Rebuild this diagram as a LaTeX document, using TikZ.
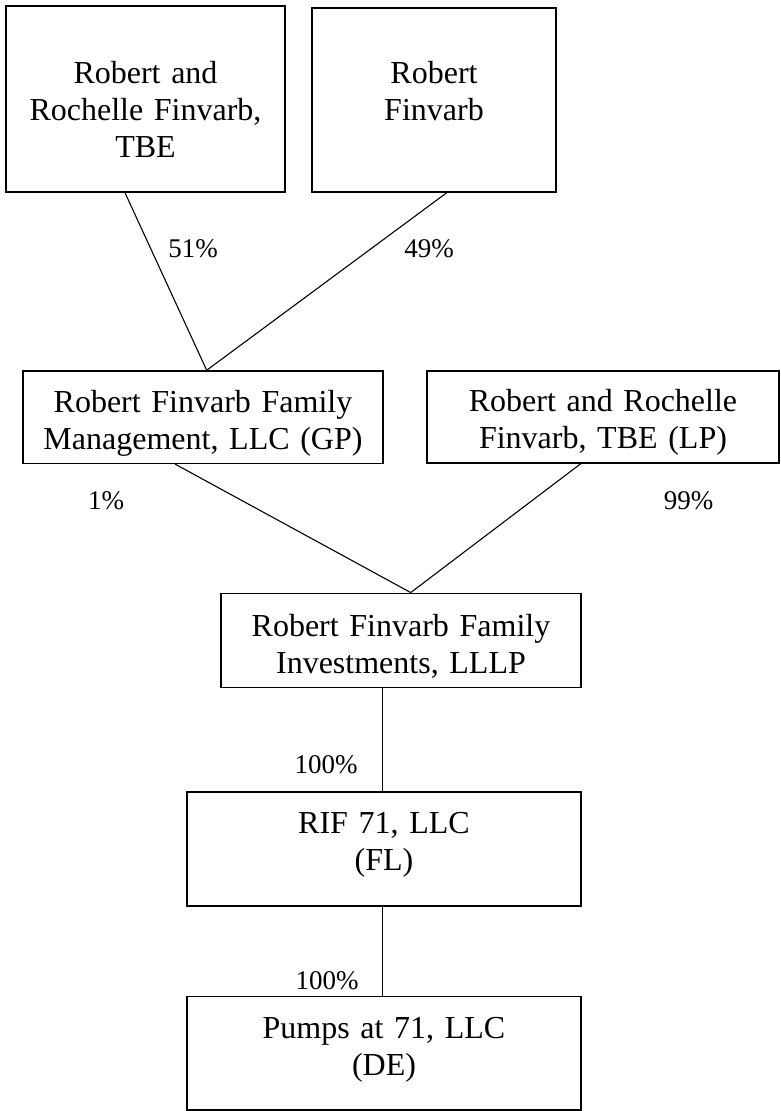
\documentclass[tikz,border=0pt]{standalone}
\usepackage{fontspec}
\setmainfont{Liberation Serif}
\begin{document}
\begin{tikzpicture}[x=1pt, y=-1pt,
  ent/.style={draw, line width=1.5pt, inner sep=0pt, align=center, anchor=base,
    font=\fontsize{32}{37}\selectfont},
  pct/.style={inner sep=0pt, anchor=base, font=\fontsize{27}{30}\selectfont},
  link/.style={line width=1.1pt}]
\useasboundingbox (0,0) rectangle (781,1111);
% owners
\node[ent, text width=279pt, text height=77pt, text depth=109pt] (owA) at (145.5,83) {Robert and\\Rochelle Finvarb,\\TBE};
\node[ent, text width=244pt, text height=75pt, text depth=109pt] (owB) at (434,83) {Robert\\Finvarb};
% partners
\node[ent, text width=360pt, text height=41.5pt, text depth=50.8pt] (gp) at (203,412.5) {Robert Finvarb Family\\Management, LLC (GP)};
\node[ent, text width=352pt, text height=40.7pt, text depth=51.3pt] (lp) at (603,411.7) {Robert and Rochelle\\Finvarb, TBE (LP)};
% partnership and below
\node[ent, text width=360pt, text height=43.2pt, text depth=50.8pt] (lllp) at (401,636.5) {Robert Finvarb Family\\Investments, LLLP};
\node[ent, text width=394pt, text height=41pt, text depth=73pt] (rif) at (384,833) {RIF 71, LLC\\(FL)};
\node[ent, text width=394pt, text height=41.5pt, text depth=72pt] (pumps) at (384,1038) {Pumps at 71, LLC\\(DE)};
% ownership lines
\draw[link]([xshift=-20.5pt]owA.south) -- ([xshift=3.7pt]gp.north);
\draw[link]([xshift=12.7pt]owB.south) -- ([xshift=3.7pt]gp.north);
\draw[link]([xshift=-28pt]gp.south) -- ([xshift=9.7pt]lllp.north);
\draw[link]([xshift=-22.3pt]lp.south) -- ([xshift=9.7pt]lllp.north);
\draw[link]([xshift=-1.3pt]rif.north) -- ([xshift=-1.3pt]rif.north |- lllp.south);
\draw[link]([xshift=-1.3pt]pumps.north) -- ([xshift=-1.3pt]pumps.north |- rif.south);
% percentages
\node[pct] (p51) at (193,257) {51\%};
\node[pct] (p49) at (429,257) {49\%};
\node[pct] (p1) at (106,509) {1\%};
\node[pct] (p99) at (688.5,509) {99\%};
\node[pct] (p100a) at (326,773) {100\%};
\node[pct] (p100b) at (327,989) {100\%};
\end{tikzpicture}
\end{document}
